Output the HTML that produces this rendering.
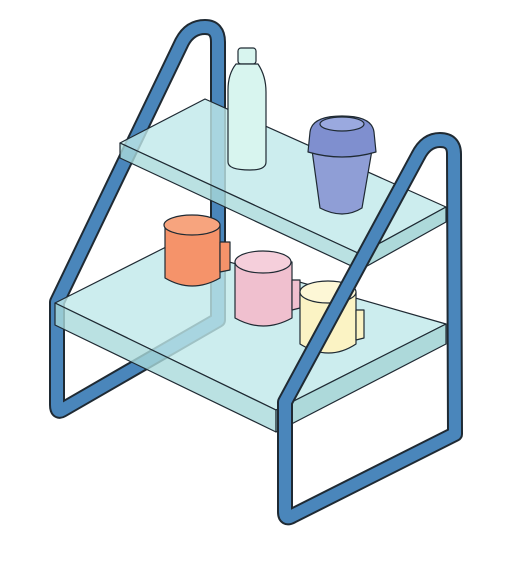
<!DOCTYPE html>
<html><head><meta charset="utf-8"><style>
html,body{margin:0;padding:0;background:#fff;width:506px;height:565px;overflow:hidden}
svg{display:block}
</style></head><body>
<svg width="506" height="565" viewBox="0 0 506 565" xmlns="http://www.w3.org/2000/svg">
<g fill="none" stroke-linejoin="round" stroke-linecap="round">
<path d="M57,302 L182,42 Q190,27 205,27 Q218,27 218,42 L218,320 L62,410 Q57,413 57,405 Z" stroke="#1f2a33" stroke-width="16"/>
<path d="M57,302 L182,42 Q190,27 205,27 Q218,27 218,42 L218,320 L62,410 Q57,413 57,405 Z" stroke="#4a86bb" stroke-width="12"/>
</g>
<g stroke="#1f2a33" stroke-width="1.2" stroke-linejoin="round">
<!-- upper shelf -->
<g fill="#bfe9ea" fill-opacity="0.8">
<path d="M120,143 L205,99 L446,207 L360,254 Z"/>
<path d="M120,143 L360,254 L360,270 L120,158 Z" fill="#a9dadb"/>
<path d="M360,254 L446,207 L446,222 L360,270 Z" fill="#98cfd1"/>
</g>
<!-- bottle -->
<g fill="#d8f5ef">
<rect x="238" y="48" width="18" height="16" rx="3"/>
<path d="M236,64 L258,64 Q266,76 266,92 L266,162 Q266,170 250,170 Q228,170 228,162 L228,90 Q228,74 236,64 Z"/>
</g>
<!-- purple cup -->
<g fill="#8f9ed6">
<path d="M312,150 L372,150 L362,208 Q343,220 320,208 Z"/>
<path d="M310,132 Q312,116 342,116 Q372,116 374,132 L376,152 Q342,162 308,152 Z" fill="#7f8fcf"/>
<ellipse cx="342" cy="124" rx="22" ry="7" fill="#9aa9df"/>
</g>
<!-- lower shelf -->
<g fill="#bfe9ea" fill-opacity="0.8">
<path d="M55,303 L170,245 L446,324 L276,410 Z"/>
<path d="M55,303 L276,410 L276,432 L55,325 Z" fill="#a9dadb"/>
<path d="M276,410 L446,324 L446,344 L276,432 Z" fill="#98cfd1"/>
</g>
<!-- orange mug -->
<g fill="#f5936a">
<path d="M165,225 L165,278 Q192,294 220,278 L220,225 Z"/>
<ellipse cx="192" cy="225" rx="28" ry="10" fill="#f7a47e"/>
<path d="M220,242 L230,242 L230,270 L220,272 Z"/>
</g>
<!-- pink mug -->
<g fill="#f0c0cf">
<path d="M235,262 L235,318 Q263,334 292,318 L292,262 Z"/>
<ellipse cx="263" cy="262" rx="28" ry="11" fill="#f5cfdb"/>
<path d="M292,280 L300,280 L300,308 L292,310 Z"/>
</g>
<!-- yellow mug -->
<g fill="#fbf3c4">
<path d="M300,292 L300,344 Q329,362 356,344 L356,292 Z"/>
<ellipse cx="328" cy="292" rx="28" ry="11" fill="#fdf7d6"/>
<path d="M356,310 L364,310 L364,338 L356,340 Z"/>
</g>
</g>
<g fill="none" stroke-linejoin="round" stroke-linecap="round">
<path d="M285,402 L418,156 Q426,140 440,140 Q454,140 454,154 L455,434 L292,516 Q285,520 285,512 Z" stroke="#1f2a33" stroke-width="16"/>
<path d="M285,402 L418,156 Q426,140 440,140 Q454,140 454,154 L455,434 L292,516 Q285,520 285,512 Z" stroke="#4a86bb" stroke-width="12"/>
</g>
</svg>
</body></html>
